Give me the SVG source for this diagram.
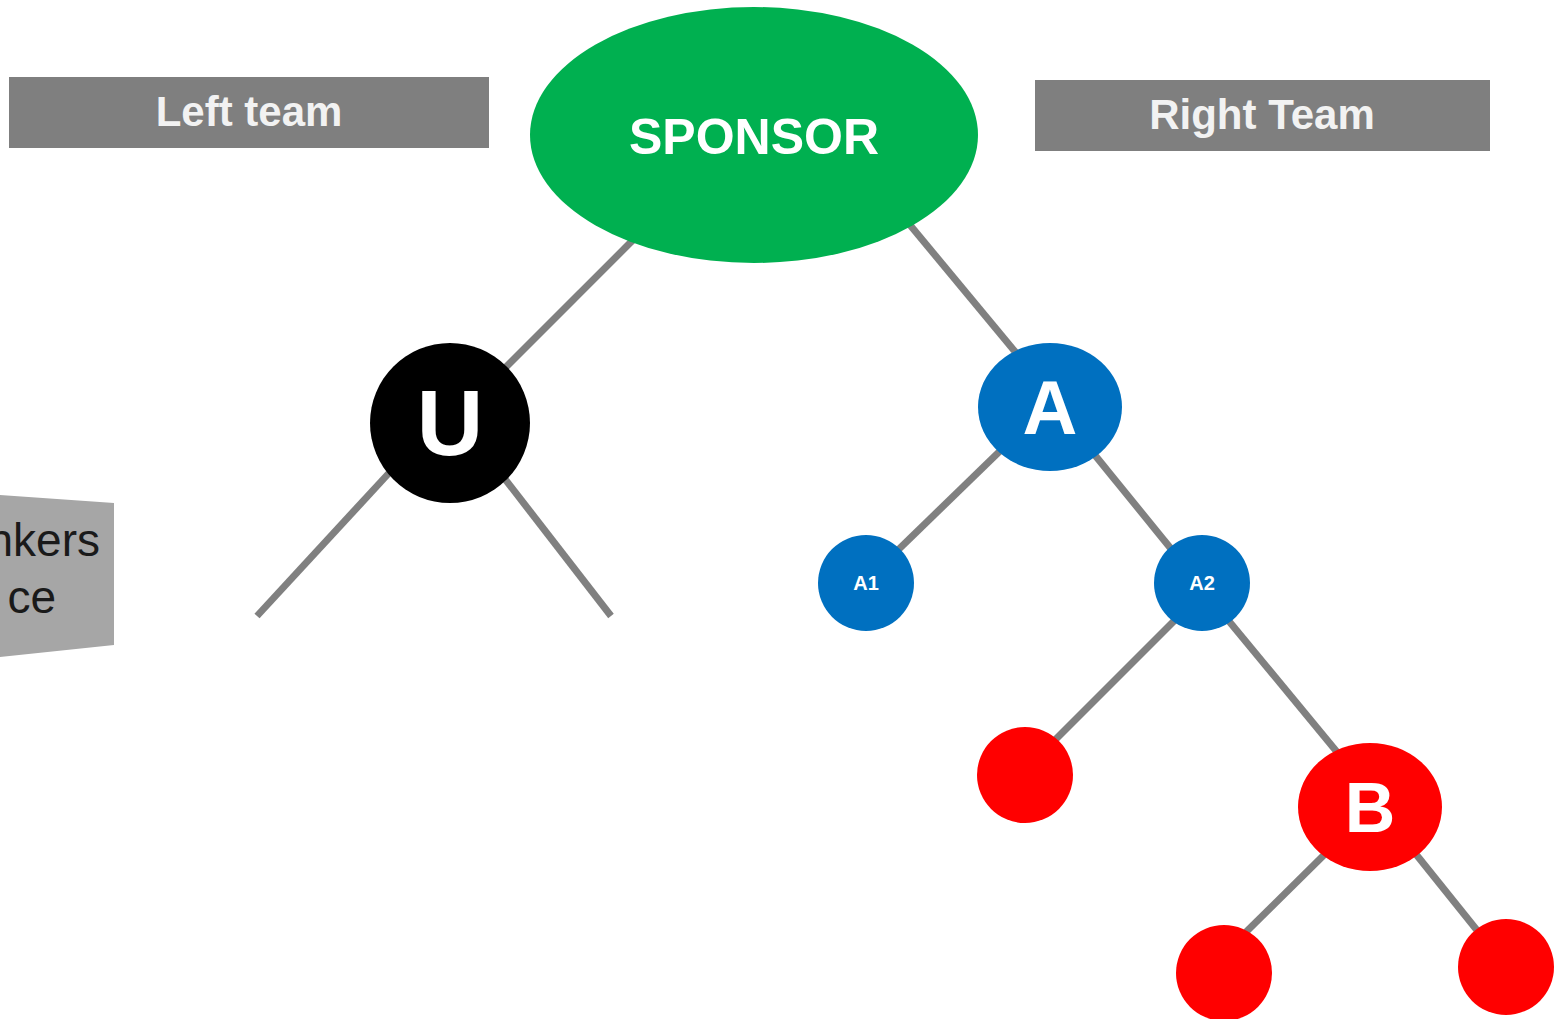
<svg xmlns="http://www.w3.org/2000/svg" width="1561" height="1019" viewBox="0 0 1561 1019">
<style>
.e{stroke:#808080;stroke-width:7;fill:none}
.t{font-family:"Liberation Sans",Arial,sans-serif;font-weight:bold;fill:#fff;text-anchor:middle}
.hdr{fill:#7F7F7F}
.ht{font-family:"Liberation Sans",Arial,sans-serif;font-weight:bold;fill:#F2F2F2;text-anchor:middle;font-size:42px}
</style>
<rect width="1561" height="1019" fill="#fff"/>
<g id="connectors">
<line class="e" x1="633" y1="240" x2="505" y2="368"/>
<line class="e" x1="389" y1="473" x2="257" y2="616"/>
<line class="e" x1="505" y1="479" x2="611" y2="616"/>
<line class="e" x1="910" y1="225" x2="1017" y2="354"/>
<line class="e" x1="1000" y1="451" x2="898" y2="550"/>
<line class="e" x1="1094" y1="454" x2="1172" y2="550"/>
<line class="e" x1="1176" y1="619" x2="1055" y2="740"/>
<line class="e" x1="1228" y1="620" x2="1337" y2="752"/>
<line class="e" x1="1326" y1="853" x2="1245" y2="933"/>
<line class="e" x1="1415" y1="853" x2="1480" y2="934"/>
</g>
<g id="left-team">
<rect class="hdr" x="9" y="77" width="480" height="71"/>
<text class="ht" x="249" y="126">Left team</text>
</g>
<g id="right-team">
<rect class="hdr" x="1035" y="80" width="455" height="71"/>
<text class="ht" x="1262" y="129">Right Team</text>
</g>
<g id="side-box">
<polygon points="0,495 114,503 114,645 0,657" fill="#A6A6A6"/>
<text x="100" y="556" font-family="Liberation Sans,Arial,sans-serif" font-size="46" fill="#1a1a1a" text-anchor="end">nkers</text>
<text x="56" y="613" font-family="Liberation Sans,Arial,sans-serif" font-size="46" fill="#1a1a1a" text-anchor="end">ce</text>
</g>
<g id="sponsor">
<ellipse cx="754" cy="135" rx="224" ry="128" fill="#00B050"/>
<text class="t" x="754" y="154" font-size="50">SPONSOR</text>
</g>
<g id="u">
<circle cx="450" cy="423" r="80" fill="#000"/>
<text class="t" x="450" y="455" font-size="92">U</text>
</g>
<g id="a">
<ellipse cx="1050" cy="407" rx="72" ry="64" fill="#0070C0"/>
<text class="t" x="1050" y="434" font-size="76">A</text>
</g>
<g id="a1">
<circle cx="866" cy="583" r="48" fill="#0070C0"/>
<text class="t" x="866" y="590" font-size="20">A1</text>
</g>
<g id="a2">
<circle cx="1202" cy="583" r="48" fill="#0070C0"/>
<text class="t" x="1202" y="590" font-size="20">A2</text>
</g>
<g id="r1">
<circle cx="1025" cy="775" r="48" fill="#FF0000"/>
</g>
<g id="b">
<ellipse cx="1370" cy="807" rx="72" ry="64" fill="#FF0000"/>
<text class="t" x="1370" y="832" font-size="70">B</text>
</g>
<g id="r2">
<circle cx="1224" cy="973" r="48" fill="#FF0000"/>
</g>
<g id="r3">
<circle cx="1506" cy="967" r="48" fill="#FF0000"/>
</g>
</svg>
